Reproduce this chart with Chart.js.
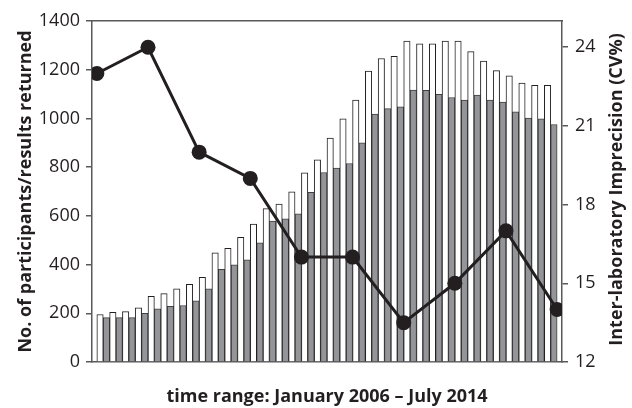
<!DOCTYPE html>
<html>
<head>
<meta charset="utf-8">
<script src="https://cdn.jsdelivr.net/npm/chart.js@4/dist/chart.umd.min.js"></script>
<style>
  html, body { margin: 0; padding: 0; background: #fff; }
  #wrap { width: 632px; height: 408px; }
</style>
</head>
<body>
<div id="wrap"><canvas id="cvChart"></canvas></div>
<script>
// Datos: 36 periodos, participantes/resultados y CV% interlaboratorio
const periodos = ['1','2','3','4','5','6','7','8','9','10','11','12','13','14','15','16','17','18',
  '19','20','21','22','23','24','25','26','27','28','29','30','31','32','33','34','35','36'];
const resultados = [195, 204, 207, 222, 270, 281, 300, 319, 348, 448, 467, 512, 566, 630, 648, 699, 777, 830,
  919, 998, 1075, 1194, 1246, 1255, 1318, 1306, 1306, 1318, 1318, 1274, 1235, 1196, 1175, 1145, 1136, 1136];
const participantes = [182, 182, 182, 200, 218, 229, 232, 251, 300, 380, 399, 419, 489, 579, 588, 608, 697, 778,
  796, 815, 900, 1018, 1040, 1048, 1116, 1115, 1099, 1086, 1075, 1096, 1075, 1067, 1027, 1001, 998, 975];
// periodo en el que se tomo cada CV (36 = final de la serie)
const cvPeriodo = [0, 4, 8, 12, 16, 20, 24, 28, 32, 36];
const cvValores = [23, 24, 20, 19, 16, 16, 13.5, 15, 17, 14];
const ticksIzq = [0, 200, 400, 600, 800, 1000, 1200, 1400];
const ticksDer = [12, 15, 18, 21, 24];

const fuente = "'Open Sans', 'Noto Sans', sans-serif";
const negro = '#231f20';
const gris = '#939598';
const ejeColor = '#58595b';
const tituloDer = 'Inter-laboratory Imprecision (CV%)';

const datosBlancos = resultados.map((v, i) => ({x: i, y: v, label: periodos[i]}));
const datosGrises = participantes.map((v, i) => ({x: i, y: v, label: periodos[i]}));
const datosCV = cvValores.map((v, i) => ({x: cvPeriodo[i] - 0.5, y: v}));

const xMin = -0.88, xMax = periodos.length - 1 + 0.88;

// Titulo del eje derecho, leido de abajo hacia arriba como en la figura
const tituloDerPlugin = {
  id: 'tituloDer',
  afterDraw(chart) {
    const c = chart.ctx;
    const area = chart.chartArea;
    c.save();
    c.translate(617, (area.top + area.bottom) / 2 - 2);
    c.rotate(-Math.PI / 2);
    c.font = `bold 18px ${fuente}`;
    c.fillStyle = negro;
    c.textAlign = 'center';
    c.textBaseline = 'middle';
    c.fillText(tituloDer, 0, 0);
    c.restore();
  }
};

const ctx = document.getElementById('cvChart');
const myChart = new Chart(ctx, {
  type: 'bar',
  data: {
    datasets: [{
      type: 'line',
      data: datosCV,
      yAxisID: 'y1',
      borderColor: negro,
      borderWidth: 3,
      pointRadius: 7.5,
      pointBackgroundColor: negro,
      pointBorderColor: negro,
      pointBorderWidth: 0,
      tension: 0,
      order: 0
    }, {
      data: datosBlancos,
      yAxisID: 'y',
      backgroundColor: '#ffffff',
      borderColor: negro,
      borderWidth: {left: 1, right: 1, top: 1, bottom: 0},
      categoryPercentage: 1.0,
      barPercentage: 1.0,
      order: 1
    }, {
      data: datosGrises,
      yAxisID: 'y',
      backgroundColor: gris,
      borderColor: '#414042',
      borderWidth: {left: 1, right: 1, top: 1, bottom: 0},
      categoryPercentage: 1.0,
      barPercentage: 1.0,
      order: 1
    }]
  },
  options: {
    responsive: true,
    maintainAspectRatio: false,
    animation: false,
    layout: { padding: { top: 0, right: 0, left: 0, bottom: 0 } },
    plugins: { legend: { display: false }, tooltip: { enabled: false } },
    scales: {
      x: {
        type: 'linear',
        min: xMin, max: xMax,
        offset: false,
        afterFit: (s) => { s.height = 46; },
        grid: { display: false },
        border: { display: true, color: ejeColor, width: 1.5 },
        ticks: { display: false },
        title: {
          display: true,
          text: 'time range: January 2006 \u2013 July 2014',
          color: negro,
          font: { family: fuente, size: 18, weight: 'bold' },
          padding: { top: 0, bottom: 0 }
        }
      },
      xTop: {
        type: 'linear',
        position: 'top',
        min: xMin, max: xMax,
        afterFit: (s) => { s.height = 21; },
        grid: { display: false },
        border: { display: true, color: ejeColor, width: 1.5 },
        ticks: { display: false }
      },
      y: {
        position: 'left',
        min: 0, max: 1400,
        afterBuildTicks: (s) => { s.ticks = ticksIzq.map(v => ({value: v})); },
        afterFit: (s) => { s.width = 92; },
        grid: { drawOnChartArea: false, drawTicks: true, tickLength: 6, color: ejeColor, lineWidth: 1.5 },
        border: { display: true, color: ejeColor, width: 1.5 },
        ticks: { color: negro, font: { family: fuente, size: 18 }, padding: 6, callback: (v) => String(v) },
        title: {
          display: true,
          text: 'No. of participants/results returned',
          color: negro,
          font: { family: fuente, size: 18, weight: 'bold' },
          padding: { top: 15, bottom: 0 }
        }
      },
      y1: {
        position: 'right',
        min: 12, max: 25,
        afterBuildTicks: (s) => { s.ticks = ticksDer.map(v => ({value: v})); },
        afterFit: (s) => { s.width = 70; },
        grid: { drawOnChartArea: false, drawTicks: true, tickLength: 6, color: ejeColor, lineWidth: 1.5 },
        border: { display: true, color: ejeColor, width: 1.5 },
        ticks: { color: negro, font: { family: fuente, size: 18 }, padding: 7, callback: (v) => String(v) }
      }
    }
  },
  plugins: [tituloDerPlugin]
});
</script>
</body>
</html>
